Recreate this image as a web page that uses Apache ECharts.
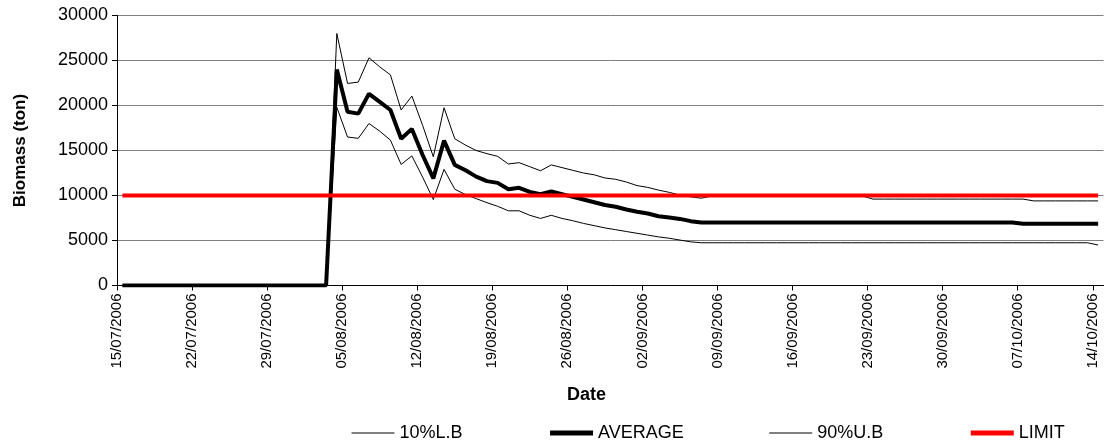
<!DOCTYPE html>
<html>
<head>
<meta charset="utf-8">
<script src="https://cdn.jsdelivr.net/npm/echarts@6/dist/echarts.min.js"></script>
<style>
  html, body { margin: 0; padding: 0; background: #fff; }
  #container { width: 1107px; height: 448px; }
</style>
</head>
<body>
<div id="container"></div>
<script>
// daily points from 15/07/2006 to 14/10/2006 (92 days)
var startDay = [2006, 6, 15];
var dayCount = 92;

var lowerBound = [
    0, 0, 0, 0, 0, 0, 0, 0, 0, 0,
    0, 0, 0, 0, 0, 0, 0, 0, 0, 0,
    19800, 16500, 16350, 18000, 17150, 16150, 13450, 14400, 12050, 9550,
    12900, 10700, 10100, 9650, 9200, 8800, 8300, 8300, 7800, 7450,
    7800, 7450, 7200, 6900, 6650, 6400, 6200, 6000, 5800, 5600,
    5400, 5250, 5050, 4850, 4750, 4750, 4750, 4750, 4750, 4750,
    4750, 4750, 4750, 4750, 4750, 4750, 4750, 4750, 4750, 4750,
    4750, 4750, 4750, 4750, 4750, 4750, 4750, 4750, 4750, 4750,
    4750, 4750, 4750, 4750, 4750, 4750, 4750, 4750, 4750, 4750,
    4750, 4500
];
var average = [
    0, 0, 0, 0, 0, 0, 0, 0, 0, 0,
    0, 0, 0, 0, 0, 0, 0, 0, 0, 0,
    24000, 19300, 19100, 21300, 20400, 19500, 16300, 17400, 14500, 11900,
    16100, 13400, 12800, 12100, 11600, 11400, 10700, 10850, 10400, 10150,
    10450, 10150, 9850, 9550, 9250, 8950, 8750, 8450, 8200, 8000,
    7700, 7550, 7400, 7150, 7000, 7000, 7000, 7000, 7000, 7000,
    7000, 7000, 7000, 7000, 7000, 7000, 7000, 7000, 7000, 7000,
    7000, 7000, 7000, 7000, 7000, 7000, 7000, 7000, 7000, 7000,
    7000, 7000, 7000, 7000, 6850, 6850, 6850, 6850, 6850, 6850,
    6850, 6850
];
var upperBound = [
    0, 0, 0, 0, 0, 0, 0, 0, 0, 0,
    0, 0, 0, 0, 0, 0, 0, 0, 0, 0,
    28000, 22450, 22600, 25300, 24300, 23400, 19500, 21050, 17800, 14300,
    19750, 16300, 15600, 15000, 14650, 14350, 13500, 13650, 13200, 12750,
    13400, 13100, 12800, 12500, 12300, 11950, 11800, 11500, 11100, 10900,
    10600, 10350, 10050, 9850, 9700, 9950, 9950, 9950, 9950, 9950,
    9950, 9950, 9950, 9950, 9950, 9950, 9950, 9950, 9950, 9950,
    9600, 9600, 9600, 9600, 9600, 9600, 9600, 9600, 9600, 9600,
    9600, 9600, 9600, 9600, 9600, 9400, 9400, 9400, 9400, 9400,
    9400, 9400
];
var limit = 10000;

var yTicks = [0, 5000, 10000, 15000, 20000, 25000, 30000];

function pad(n) { return (n < 10 ? '0' : '') + n; }
function dayLabel(i) {
    var d = new Date(Date.UTC(startDay[0], startDay[1], startDay[2] + i));
    return pad(d.getUTCDate()) + '/' + pad(d.getUTCMonth() + 1) + '/' + d.getUTCFullYear();
}

var days = [];
for (var i = 0; i < dayCount; i++) days.push(dayLabel(i));
// tick positions sit on day boundaries, one more than the days
var tickDays = [];
for (var j = 0; j <= dayCount; j++) tickDays.push(dayLabel(j));

var limitLine = days.map(function () { return limit; });

var font = 'Liberation Sans, Arial, sans-serif';

var myChart = echarts.init(document.getElementById('container'));

var option = {
    animation: false,
    backgroundColor: '#ffffff',
    grid: {
        left: 117,
        right: 3.5,
        top: 15.5,
        bottom: 162.5,
        containLabel: false
    },
    legend: {
        left: 351,
        top: 424,
        padding: 0,
        itemWidth: 43,
        itemHeight: 14,
        itemGap: 85,
        itemStyle: { opacity: 0 },
        textStyle: { fontFamily: font, fontSize: 18, color: '#000' },
        data: [
            { name: '10%L.B', lineStyle: { width: 1, color: '#000' } },
            { name: 'AVERAGE', lineStyle: { width: 5, color: '#000' } },
            { name: '90%U.B', lineStyle: { width: 1, color: '#000' } },
            { name: 'LIMIT', lineStyle: { width: 5, color: '#ff0000' } }
        ]
    },
    graphic: [{
        type: 'text',
        left: 567,
        top: 386,
        style: { text: 'Date', font: 'bold 18px ' + font, fill: '#000' }
    }],
    xAxis: [
        {
            type: 'category',
            position: 'bottom',
            data: days,
            boundaryGap: true,
            axisLine: { lineStyle: { color: '#000', width: 1 } },
            axisTick: { show: false },
            axisLabel: { show: false },
            splitLine: { show: false }
        },
        {
            type: 'category',
            position: 'bottom',
            data: tickDays,
            boundaryGap: false,
            axisLine: { show: false },
            axisTick: {
                show: true,
                interval: 6,
                length: 5,
                lineStyle: { color: '#000' }
            },
            axisLabel: {
                interval: 6,
                rotate: 90,
                margin: 8,
                fontFamily: font,
                fontSize: 15,
                color: '#000'
            },
            splitLine: { show: false }
        }
    ],
    yAxis: {
        type: 'value',
        min: yTicks[0],
        max: yTicks[yTicks.length - 1],
        interval: yTicks[1] - yTicks[0],
        name: 'Biomass (ton)',
        nameLocation: 'middle',
        nameGap: 88,
        nameTextStyle: { fontFamily: font, fontSize: 17, fontWeight: 'bold', color: '#000' },
        axisLine: { show: true, lineStyle: { color: '#000', width: 1 } },
        axisTick: { show: true, length: 5, lineStyle: { color: '#000' } },
        axisLabel: {
            margin: 9,
            fontFamily: font,
            fontSize: 18,
            color: '#000',
            formatter: function (v) { return String(v); }
        },
        splitLine: { lineStyle: { color: '#808080', width: 1 } }
    },
    series: [
        {
            name: '10%L.B',
            type: 'line',
            xAxisIndex: 0,
            symbol: 'none',
            lineStyle: { color: '#000', width: 1 },
            itemStyle: { color: '#000' },
            data: lowerBound
        },
        {
            name: 'AVERAGE',
            type: 'line',
            xAxisIndex: 0,
            symbol: 'none',
            lineStyle: { color: '#000', width: 4 },
            itemStyle: { color: '#000' },
            data: average
        },
        {
            name: '90%U.B',
            type: 'line',
            xAxisIndex: 0,
            symbol: 'none',
            lineStyle: { color: '#000', width: 1 },
            itemStyle: { color: '#000' },
            data: upperBound
        },
        {
            name: 'LIMIT',
            type: 'line',
            xAxisIndex: 0,
            symbol: 'none',
            lineStyle: { color: '#ff0000', width: 4 },
            itemStyle: { color: '#ff0000' },
            data: limitLine
        }
    ]
};

if (option && typeof option === "object") {
    myChart.setOption(option, true);
}
</script>
</body>
</html>
